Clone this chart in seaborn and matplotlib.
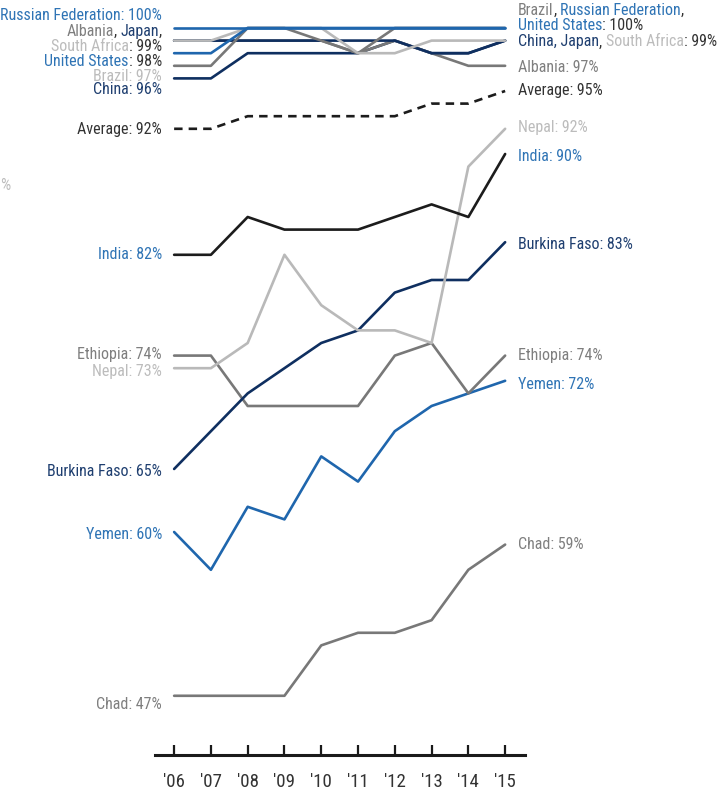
import pandas as pd
import matplotlib
matplotlib.use("Agg")
import matplotlib.pyplot as plt
import matplotlib.transforms as mtransforms
from matplotlib import font_manager
import seaborn as sns

# Data
years = [2006, 2007, 2008, 2009, 2010, 2011, 2012, 2013, 2014, 2015]
year_labels = ["'06", "'07", "'08", "'09", "'10", "'11", "'12", "'13", "'14", "'15"]

chad = [47, 47, 47, 47, 51, 52, 52, 53, 57, 59]
yemen = [60, 57, 62, 61, 66, 64, 68, 70, 71, 72]
ethiopia = [74, 74, 70, 70, 70, 70, 74, 75, 71, 74]
burkina_faso = [65, 68, 71, 73, 75, 76, 79, 80, 80, 83]
nepal = [73, 73, 75, 82, 78, 76, 76, 75, 89, 92]
india = [82, 82, 85, 84, 84, 84, 85, 86, 85, 90]
average = [92, 92, 93, 93, 93, 93, 93, 94, 94, 95]
china = [96, 96, 98, 98, 98, 98, 99, 98, 98, 99]
albania = [99, 99, 99, 99, 99, 98, 99, 98, 97, 97]
japan = [99, 99, 99, 99, 99, 99, 99, 98, 98, 99]
brazil = [97, 97, 100, 100, 99, 98, 100, 100, 100, 100]
south_africa = [99, 99, 100, 100, 100, 98, 98, 99, 99, 99]
united_states = [98, 98, 100, 100, 100, 100, 100, 100, 100, 100]
russian_federation = [100, 100, 100, 100, 100, 100, 100, 100, 100, 100]

# colours
BLUE = '#1f66ad'
NAVY = '#0f2f60'
GRAY = '#787878'
LGRAY = '#b9b9b9'
BLACK = '#1c1c1c'
T_BLUE = '#2f74b5'
T_NAVY = '#1f3f70'
T_GRAY = '#7f7f7f'
T_LGRAY = '#bcbcbc'
T_DARK = '#333333'

# drawing order = bottom to top
series = [
    ("Chad", chad, GRAY, "-"),
    ("Yemen", yemen, BLUE, "-"),
    ("Ethiopia", ethiopia, GRAY, "-"),
    ("Burkina Faso", burkina_faso, NAVY, "-"),
    ("Nepal", nepal, LGRAY, "-"),
    ("India", india, BLACK, "-"),
    ("Average", average, BLACK, "--"),
    ("China", china, NAVY, "-"),
    ("Albania", albania, GRAY, "-"),
    ("Japan", japan, NAVY, "-"),
    ("Brazil", brazil, GRAY, "-"),
    ("South Africa", south_africa, LGRAY, "-"),
    ("United States", united_states, BLUE, "-"),
    ("Russian Federation", russian_federation, BLUE, "-"),
]

# pick a narrow font if one is installed
installed = {f.name for f in font_manager.fontManager.ttflist}
main_font = 'Roboto'
for name in ['Liberation Sans Narrow', 'Roboto Condensed', 'Open Sans Condensed', 'Noto Sans Condensed', 'Roboto']:
    if name in installed:
        main_font = name
        break

sns.set_style("white")
plt.rcParams['font.family'] = [main_font, 'DejaVu Sans']

fig = plt.figure(figsize=(7.19, 7.96), dpi=100)
ax = fig.add_axes([155 / 719, 1 - 755 / 796, 370 / 719, (755 - 15.4) / 796])

fig.canvas.draw()
renderer = fig.canvas.get_renderer()

# scale font so the longest left label is as wide as in the reference (~162 px)
probe = fig.text(0, 0, "Russian Federation: 100%", fontsize=11)
pw = probe.get_window_extent(renderer=renderer).width
probe.remove()
FS = min(11.5, 11 * 162 / pw)
TFS = FS * 13 / 11

for name, vals, col, ls in series:
    df = pd.DataFrame({"year": years, "value": vals})
    sns.lineplot(data=df, x="year", y="value", color=col, linewidth=1.9, ax=ax)
    if ls == "--":
        ax.lines[-1].set_dashes([3.2, 2.3])

ax.set_xlim(2005.48, 2015.54)
ax.set_ylim(42.3, 101.0)
ax.set_xlabel("")
ax.set_ylabel("")
ax.set_yticks([])
ax.set_xticks(years)
ax.set_xticklabels(year_labels, fontsize=TFS, color=T_DARK)
for s in ["top", "left", "right"]:
    ax.spines[s].set_visible(False)
ax.spines["bottom"].set_linewidth(2.2)
ax.spines["bottom"].set_color("#1a1a1a")
ax.tick_params(axis="x", bottom=True, direction="in", length=7, width=1.6,
               color="#1a1a1a", pad=13)


def multi_text(x, y, parts, ha):
    # draw text pieces of different colours next to each other
    offset = 0
    seq = parts if ha == "left" else parts[::-1]
    for s, c in seq:
        tr = mtransforms.offset_copy(ax.transData, fig=fig, x=offset, y=0, units="dots")
        t = ax.text(x, y, s, color=c, ha=ha, va="center", fontsize=FS, transform=tr, clip_on=False)
        w = t.get_window_extent(renderer=renderer).width
        offset += w if ha == "left" else -w


LX = 2005.67
RX = 2015.35

left_labels = [
    (101.03, [("Russian Federation: 100%", T_BLUE)]),
    (99.76, [("Albania", T_GRAY), (", ", T_DARK), ("Japan", T_NAVY), (",", T_DARK)]),
    (98.57, [("South Africa", T_LGRAY), (": 99%", T_DARK)]),
    (97.38, [("United States", T_BLUE), (": 98%", T_DARK)]),
    (96.19, [("Brazil: 97%", T_LGRAY)]),
    (95.08, [("China: 96%", T_NAVY)]),
    (91.98, [("Average: 92%", T_DARK)]),
    (82.0, [("India: 82%", T_BLUE)]),
    (74.05, [("Ethiopia: 74%", T_GRAY)]),
    (72.7, [("Nepal: 73%", T_LGRAY)]),
    (64.8, [("Burkina Faso: 65%", T_NAVY)]),
    (59.8, [("Yemen: 60%", T_BLUE)]),
    (46.3, [("Chad: 47%", T_GRAY)]),
]

right_labels = [
    (101.4, [("Brazil", T_GRAY), (", ", T_DARK), ("Russian Federation", T_BLUE), (",", T_DARK)]),
    (100.2, [("United States", T_BLUE), (": 100%", T_DARK)]),
    (98.9, [("China, Japan", T_NAVY), (", ", T_DARK), ("South Africa", T_LGRAY), (": 99%", T_DARK)]),
    (96.9, [("Albania: 97%", T_GRAY)]),
    (95.0, [("Average: 95%", T_DARK)]),
    (92.1, [("Nepal: 92%", T_LGRAY)]),
    (89.8, [("India: 90%", T_BLUE)]),
    (82.8, [("Burkina Faso: 83%", T_NAVY)]),
    (74.0, [("Ethiopia: 74%", T_GRAY)]),
    (71.7, [("Yemen: 72%", T_BLUE)]),
    (59.0, [("Chad: 59%", T_GRAY)]),
]

for y, parts in left_labels:
    multi_text(LX, y, parts, "right")
for y, parts in right_labels:
    multi_text(RX, y, parts, "left")

# label tail at the left edge (the rest lies outside the picture)
fig.text(0.0, 1 - 186 / 796, "%", color=T_LGRAY, fontsize=FS, va="center", ha="left")

fig.savefig("out.png", dpi=100)
